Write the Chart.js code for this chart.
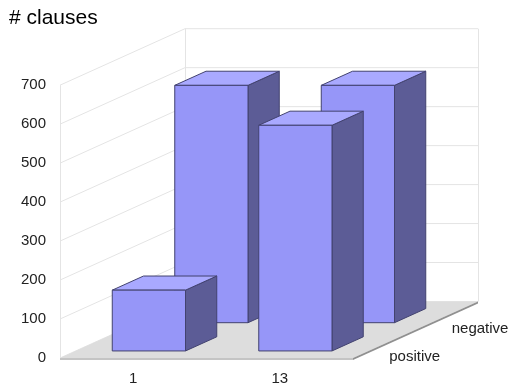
<!DOCTYPE html>
<html>
<head>
<meta charset="utf-8">
<script src="https://cdn.jsdelivr.net/npm/chart.js@4.4.0/dist/chart.umd.min.js"></script>
<style>
  body { margin: 0; background: #fff; }
  canvas { display: block; }
</style>
</head>
<body>
<canvas id="clausesChart" width="512" height="386"></canvas>
<script>
const categorias = ['1', '13'];
const series = ['positive', 'negative'];
const positiveValues = [156, 579];
const negativeValues = [609, 609];
const yMin = 0;
const yMax = 700;
const yStep = 100;

// offset of the back wall relative to the front plane (oblique 3d)
const depth = { x: 125, y: -56.5 };

const cores = {
    front: '#9696f8',
    top: '#a9a9ff',
    side: '#5c5c96',
    edge: '#42426f',
    grid: '#e4e4e4',
    floorTop: '#dddddd',
    floorFront: '#c4c4c4',
    floorSide: '#909090',
    text: '#222'
};

function shift(x, y, f) {
    return [x + depth.x * f, y + depth.y * f];
}

function poly(ctx, pts, fill, stroke) {
    ctx.beginPath();
    ctx.moveTo(pts[0][0], pts[0][1]);
    for (let i = 1; i < pts.length; i++) ctx.lineTo(pts[i][0], pts[i][1]);
    ctx.closePath();
    ctx.fillStyle = fill;
    ctx.fill();
    if (stroke) {
        ctx.strokeStyle = stroke;
        ctx.lineWidth = 1;
        ctx.stroke();
    }
}

// walls, grid lines and the floor slab
const walls3d = {
    id: 'walls3d',
    beforeDatasetsDraw(chart) {
        const ctx = chart.ctx;
        const { left, right } = chart.chartArea;
        const y = chart.scales.y;
        const base = y.getPixelForValue(yMin);
        const topY = y.getPixelForValue(yMax);
        ctx.save();
        ctx.strokeStyle = cores.grid;
        ctx.lineWidth = 1;
        y.ticks.forEach(t => {
            const py = y.getPixelForValue(t.value);
            const back = shift(left, py, 1);
            const backR = shift(right, py, 1);
            ctx.beginPath();
            ctx.moveTo(left, py);
            ctx.lineTo(back[0], back[1]);
            ctx.lineTo(backR[0], backR[1]);
            ctx.stroke();
        });
        [[left, 0], [left, 1], [right, 1]].forEach(([x, f]) => {
            const a = shift(x, topY, f);
            const b = shift(x, base, f);
            ctx.beginPath();
            ctx.moveTo(Math.round(a[0]) + 0.5, a[1]);
            ctx.lineTo(Math.round(b[0]) + 0.5, b[1]);
            ctx.stroke();
        });

        const th = 2;
        poly(ctx, [[left, base], [right, base], shift(right, base, 1), shift(left, base, 1)], cores.floorTop);
        poly(ctx, [[left, base], [right, base], [right, base + th], [left, base + th]], cores.floorFront);
        poly(ctx, [[right, base], shift(right, base, 1), shift(right, base + th, 1), [right, base + th]], cores.floorSide);

        // series names along the right edge of the floor
        ctx.fillStyle = cores.text;
        ctx.font = '15px "Liberation Sans", Arial, sans-serif';
        ctx.textAlign = 'left';
        ctx.textBaseline = 'middle';
        chart.data.datasets.forEach((ds, i) => {
            const p = shift(right, base, (i + 0.5) / chart.data.datasets.length);
            ctx.fillText(ds.label, p[0] + 5, p[1] + 13);
        });
        ctx.restore();
    }
};

// boxes for each bar, back row first
const bars3d = {
    id: 'bars3d',
    afterDatasetsDraw(chart) {
        const ctx = chart.ctx;
        const n = chart.data.datasets.length;
        ctx.save();
        for (let i = n - 1; i >= 0; i--) {
            const f0 = (i + 0.25) / n;
            const f1 = (i + 0.75) / n;
            chart.getDatasetMeta(i).data.forEach(bar => {
                const l = bar.x - bar.width / 2;
                const r = bar.x + bar.width / 2;
                const t = bar.y;
                const b = bar.base;
                poly(ctx, [shift(r, t, f0), shift(r, t, f1), shift(r, b, f1), shift(r, b, f0)], cores.side, cores.edge);
                poly(ctx, [shift(l, t, f0), shift(l, t, f1), shift(r, t, f1), shift(r, t, f0)], cores.top, cores.edge);
                poly(ctx, [shift(l, t, f0), shift(r, t, f0), shift(r, b, f0), shift(l, b, f0)], cores.front, cores.edge);
            });
        }
        ctx.restore();
    }
};

document.addEventListener('DOMContentLoaded', () => {
    Chart.defaults.font.family = '"Liberation Sans", Arial, sans-serif';

    const ctx = document.getElementById('clausesChart').getContext('2d');
    // the flat bars stay invisible, bars3d draws the boxes from their geometry
    const hidden = { backgroundColor: 'rgba(0,0,0,0)', borderColor: 'rgba(0,0,0,0)', borderWidth: 0 };
    new Chart(ctx, {
        type: 'bar',
        data: {
            labels: categorias,
            datasets: [
                { label: series[0], data: positiveValues, ...hidden },
                { label: series[1], data: negativeValues, ...hidden }
            ]
        },
        options: {
            responsive: false,
            animation: false,
            events: [],
            devicePixelRatio: 1,
            datasets: {
                bar: {
                    grouped: false,
                    categoryPercentage: 1,
                    barPercentage: 0.5
                }
            },
            layout: {
                padding: { left: 9, right: 159, top: 0, bottom: 0 }
            },
            plugins: {
                colors: { enabled: false },
                legend: { display: false },
                tooltip: { enabled: false },
                title: {
                    display: true,
                    text: '# clauses',
                    align: 'start',
                    color: '#000',
                    font: { size: 21, weight: 'normal', lineHeight: 1.2 },
                    padding: { top: 6, bottom: 54 }
                }
            },
            scales: {
                x: {
                    grid: { display: false, drawTicks: false },
                    border: { display: false },
                    ticks: { color: cores.text, font: { size: 15 }, padding: 12 },
                    afterFit: scale => { scale.height = 28; }
                },
                y: {
                    min: yMin,
                    max: yMax,
                    grid: { display: false, drawTicks: false },
                    border: { display: false },
                    ticks: { stepSize: yStep, color: cores.text, font: { size: 15 }, padding: 14 },
                    afterFit: scale => { scale.width = 51; }
                }
            }
        },
        plugins: [walls3d, bars3d]
    });
});
</script>
</body>
</html>
